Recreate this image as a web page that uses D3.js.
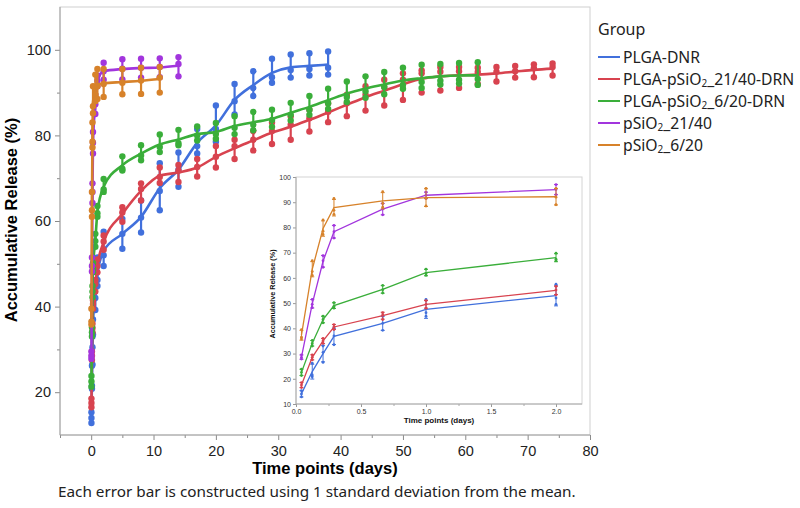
<!DOCTYPE html>
<html><head><meta charset="utf-8">
<script src="https://cdn.jsdelivr.net/npm/d3@7/dist/d3.min.js"></script>
<style>body{margin:0;background:#fff}svg{display:block}</style>
</head><body><svg id="c" width="800" height="508"></svg>
<script>
// ---------- data ----------
const days = [0.042, 0.125, 0.208, 0.292, 0.667, 1, 2, 5, 8, 11, 14, 17, 20, 23, 26, 29, 32, 35, 38, 41, 44, 47, 50, 53, 56, 59, 62, 65, 68, 71, 74];
const groups = ["PLGA-DNR", "PLGA-pSiO₂_21/40-DRN", "PLGA-pSiO₂_6/20-DRN", "pSiO₂_21/40", "pSiO₂_6/20"];
const colors = ["#4170dc", "#d8434f", "#3aae3a", "#a235dd", "#d7822a"];
const yTicks = [20, 40, 60, 80, 100];
const xTicks = [0, 10, 20, 30, 40, 50, 60, 70, 80];
const insetYTicks = [10, 20, 30, 40, 50, 60, 70, 80, 90, 100];
const insetXTicks = [0, 0.5, 1.0, 1.5, 2.0];
// replicate values (3 per time point), in order of `days`
const repPLGA_DNR = [[12.8,14.0,15.3],[20.8,21.5,26.2],[26.5,30.5,33.0],[33.5,37.0,40.0],[39.2,42.0,44.8],[44.8,46.2,51.5],[49.5,52.0,57.5],
  [53.5,57.0,60.5],[57.3,60.8,64.8],[62.5,67.0,73.5],[68.0,72.0,76.0],[75.8,77.5,81.5],[78.5,81.5,87.0],[84.9,88.0,92.0],[89.2,91.1,95.0],
  [92.3,93.6,97.9],[93.5,95.3,98.9],[94.0,95.5,99.2],[94.2,95.8,99.6]];
const repPLGA_pSiO2_21_40 = [[16.5,17.5,18.5],[27.5,28.5,29.5],[34.0,35.0,36.0],[39.5,40.6,41.5],[43.5,45.3,46.2],[48.0,49.5,51.0],[53.3,55.2,56.6],
  [59.8,62.0,63.2],[64.8,67.5,68.8],[68.9,70.3,72.5],[69.1,71.8,73.1],[70.4,72.6,74.5],[72.5,75.0,77.5],[74.5,77.5,79.0],[76.5,79.0,81.0],
  [78.0,81.0,83.0],[79.0,82.5,84.5],[80.9,84.0,86.0],[83.1,85.5,87.5],[84.5,87.5,89.5],[85.8,89.5,91.5],[87.0,91.3,93.0],[88.3,93.0,94.5],
  [90.0,94.5,95.2],[90.5,94.9,96.0],[91.1,95.0,96.0],[92.0,94.8,95.8],[92.6,94.9,96.0],[93.5,95.0,96.2],[93.6,95.7,96.6],[94.0,96.0,96.8]];
const repPLGA_pSiO2_6_20 = [[21.3,22.5,23.8],[33.0,34.0,35.2],[42.2,43.5,44.8],[48.0,48.8,50.2],[54.0,55.3,57.0],[61.0,61.8,63.5],[66.8,67.4,69.8],
  [71.8,72.2,75.1],[74.2,75.3,77.7],[76.1,77.3,80.2],[77.7,78.2,81.3],[78.8,80.0,82.1],[79.2,80.3,82.9],[80.3,81.8,84.5],[81.2,82.5,85.5],
  [82.0,83.6,86.0],[83.5,84.8,87.6],[84.8,86.0,89.2],[86.2,87.5,90.9],[87.8,89.0,92.6],[88.8,90.3,93.8],[89.6,91.3,94.8],[90.9,91.8,95.8],
  [91.1,92.5,96.5],[91.9,92.8,96.7],[92.1,93.0,96.9],[91.8,93.2,97.1]];
const rep_pSiO2_21_40 = [[27.8,28.5,29.5],[48.2,49.5,51.5],[64.2,66.8,68.8],[75.8,78.3,80.8],[85.0,87.3,89.5],[91.5,92.8,94.0],[93.0,95.0,97.0],
  [93.1,95.6,97.8],[93.5,95.8,97.9],[93.6,96.0,98.0],[93.8,96.7,98.3]];
const rep_pSiO2_6_20 = [[35.8,36.5,39.5],[61.0,62.5,66.8],[77.2,78.5,83.0],[85.2,86.8,91.5],[88.0,89.5,94.2],[88.5,91.5,95.5],[89.0,92.0,95.5],
  [89.6,92.3,95.5],[89.7,92.8,95.8],[90.0,93.5,96.0]];
const replicates = [repPLGA_DNR, repPLGA_pSiO2_21_40, repPLGA_pSiO2_6_20, rep_pSiO2_21_40, rep_pSiO2_6_20];
const insetCount = 7; // first 7 time points (<= 2 days) shown in the inset

// ---------- derived ----------
const series = replicates.map((reps, gi) => reps.map((r, i) => ({
  t: days[i], reps: r, mean: d3.mean(r), sd: d3.deviation(r)
})));

const svg = d3.select("#c");
const W = 800, H = 508;
svg.append("rect").attr("width", W).attr("height", H).attr("fill", "#fff");

// ---------- main chart ----------
const x = d3.scaleLinear().domain([-5, 80]).range([60, 590]);
const y = d3.scaleLinear().domain([10, 110]).range([435, 7]);

const main = svg.append("g");
main.append("rect").attr("x", 60).attr("y", 7).attr("width", 530).attr("height", 428)
  .attr("fill", "none").attr("stroke", "#cfcfcf").attr("stroke-width", 1);

function styleAxis(g, col) {
  g.select(".domain").remove();
  g.selectAll(".tick line").attr("stroke", col || "#8a8a8a");
}
const axY = main.append("g").attr("transform", "translate(60,0)")
  .call(d3.axisLeft(y).tickValues(yTicks).tickSize(5).tickPadding(4));
styleAxis(axY);
axY.selectAll("text").attr("font-family", "Liberation Sans, Arial, sans-serif").attr("font-size", 14.5).attr("fill", "#222");
const axYm = main.append("g").attr("transform", "translate(60,0)")
  .call(d3.axisLeft(y).tickValues([30, 50, 70, 90]).tickSize(3).tickFormat(""));
styleAxis(axYm);
const axX = main.append("g").attr("transform", "translate(0,435)")
  .call(d3.axisBottom(x).tickValues(xTicks).tickSize(5).tickPadding(6));
styleAxis(axX);
axX.selectAll("text").attr("font-family", "Liberation Sans, Arial, sans-serif").attr("font-size", 14.5).attr("fill", "#222");
const axXm = main.append("g").attr("transform", "translate(0,435)")
  .call(d3.axisBottom(x).tickValues([-5, 5, 15, 25, 35, 45, 55, 65, 75]).tickSize(3).tickFormat(""));
styleAxis(axXm);
main.append("line").attr("x1", 60).attr("x2", 60).attr("y1", 7).attr("y2", 435).attr("stroke", "#a0a0a0");
main.append("line").attr("x1", 60).attr("x2", 590).attr("y1", 435).attr("y2", 435).attr("stroke", "#a0a0a0");

main.append("text").attr("transform", "translate(17,220) rotate(-90)")
  .attr("text-anchor", "middle").attr("font-family", "Liberation Sans, Arial, sans-serif")
  .attr("font-weight", "bold").attr("font-size", 16.5).attr("fill", "#000").text("Accumulative Release (%)");
main.append("text").attr("x", 325).attr("y", 474)
  .attr("text-anchor", "middle").attr("font-family", "Liberation Sans, Arial, sans-serif")
  .attr("font-weight", "bold").attr("font-size", 16.5).attr("fill", "#000").text("Time points (days)");

const lineMain = d3.line().x(d => x(d.t)).y(d => y(d.mean)).curve(d3.curveMonotoneX);
series.forEach((s, gi) => {
  const g = main.append("g");
  g.append("path").datum(s).attr("d", lineMain).attr("fill", "none")
    .attr("stroke", colors[gi]).attr("stroke-width", 2.6);
  g.selectAll("line.eb").data(s).join("line").attr("class", "eb")
    .attr("x1", d => x(d.t)).attr("x2", d => x(d.t))
    .attr("y1", d => y(d.mean - d.sd)).attr("y2", d => y(d.mean + d.sd))
    .attr("stroke", colors[gi]).attr("stroke-width", 2.2);
  const pts = s.flatMap(d => d.reps.map(v => ({ t: d.t, v })));
  g.selectAll("circle").data(pts).join("circle")
    .attr("cx", d => x(d.t)).attr("cy", d => y(d.v)).attr("r", 3.2)
    .attr("fill", colors[gi]);
});

// ---------- legend ----------
const leg = svg.append("g").attr("font-family", "Noto Sans, Open Sans, sans-serif");
leg.append("text").attr("x", 598).attr("y", 35).attr("font-size", 16).attr("fill", "#222").text("Group");
groups.forEach((name, i) => {
  const yy = 57 + i * 22;
  leg.append("line").attr("x1", 598).attr("x2", 620).attr("y1", yy).attr("y2", yy)
    .attr("stroke", colors[i]).attr("stroke-width", 2);
  const t = leg.append("text").attr("x", 623).attr("y", yy + 5.5).attr("font-size", 15.7).attr("fill", "#222");
  const parts = name.split("₂");
  parts.forEach((p, k) => {
    if (k > 0) t.append("tspan").attr("font-size", 10).attr("dy", 2).text("2");
    t.append("tspan").attr("dy", k > 0 ? -2 : 0).text(p);
  });
});

// ---------- footnote ----------
svg.append("text").attr("x", 58).attr("y", 497).attr("font-family", "Noto Sans, Open Sans, sans-serif")
  .attr("font-size", 15.3).attr("fill", "#222")
  .text("Each error bar is constructed using 1 standard deviation from the mean.");

// ---------- inset ----------
const xi = d3.scaleLinear().domain([0, 2.2]).range([296, 582]);
const yi = d3.scaleLinear().domain([10, 100]).range([404, 177]);
const inset = svg.append("g");
inset.append("rect").attr("x", 296).attr("y", 177).attr("width", 286).attr("height", 227)
  .attr("fill", "#fff").attr("stroke", "#d4d4d4");
const iy = inset.append("g").attr("transform", "translate(296,0)")
  .call(d3.axisLeft(yi).tickValues(insetYTicks).tickSize(3).tickPadding(2));
styleAxis(iy, "#999");
iy.selectAll("text").attr("font-family", "Liberation Sans, Arial, sans-serif").attr("font-size", 7).attr("fill", "#333");
const ix = inset.append("g").attr("transform", "translate(0,404)")
  .call(d3.axisBottom(xi).tickValues(insetXTicks).tickSize(3).tickPadding(2).tickFormat(d3.format(".1f")));
styleAxis(ix, "#999");
ix.selectAll("text").attr("font-family", "Liberation Sans, Arial, sans-serif").attr("font-size", 7).attr("fill", "#333");
const ixm = inset.append("g").attr("transform", "translate(0,404)")
  .call(d3.axisBottom(xi).tickValues([0.25, 0.75, 1.25, 1.75]).tickSize(2).tickFormat(""));
styleAxis(ixm, "#aaa");
inset.append("line").attr("x1", 296).attr("x2", 296).attr("y1", 177).attr("y2", 404).attr("stroke", "#aaa");
inset.append("line").attr("x1", 296).attr("x2", 582).attr("y1", 404).attr("y2", 404).attr("stroke", "#aaa");
inset.append("text").attr("transform", "translate(275,294) rotate(-90)")
  .attr("text-anchor", "middle").attr("font-family", "Liberation Sans, Arial, sans-serif")
  .attr("font-weight", "bold").attr("font-size", 7.2).attr("fill", "#111").text("Accumulative Release (%)");
inset.append("text").attr("x", 439).attr("y", 423)
  .attr("text-anchor", "middle").attr("font-family", "Liberation Sans, Arial, sans-serif")
  .attr("font-weight", "bold").attr("font-size", 8).attr("fill", "#111").text("Time points (days)");

const lineIn = d3.line().x(d => xi(d.t)).y(d => yi(d.mean));
series.forEach((s0, gi) => {
  const s = s0.slice(0, insetCount);
  const g = inset.append("g");
  g.append("path").datum(s).attr("d", lineIn).attr("fill", "none")
    .attr("stroke", colors[gi]).attr("stroke-width", 1.3);
  s.forEach(d => {
    const cx = xi(d.t), y1 = yi(d.mean - d.sd), y2 = yi(d.mean + d.sd);
    g.append("line").attr("x1", cx).attr("x2", cx).attr("y1", y1).attr("y2", y2).attr("stroke", colors[gi]).attr("stroke-width", 1);
    [y1, y2].forEach(yy => g.append("line").attr("x1", cx - 2).attr("x2", cx + 2).attr("y1", yy).attr("y2", yy)
      .attr("stroke", colors[gi]).attr("stroke-width", 1));
  });
  const pts = s.flatMap(d => d.reps.map(v => ({ t: d.t, v })));
  g.selectAll("circle").data(pts).join("circle")
    .attr("cx", d => xi(d.t)).attr("cy", d => yi(d.v)).attr("r", 1.4).attr("fill", colors[gi]);
});
</script>
</body></html>
